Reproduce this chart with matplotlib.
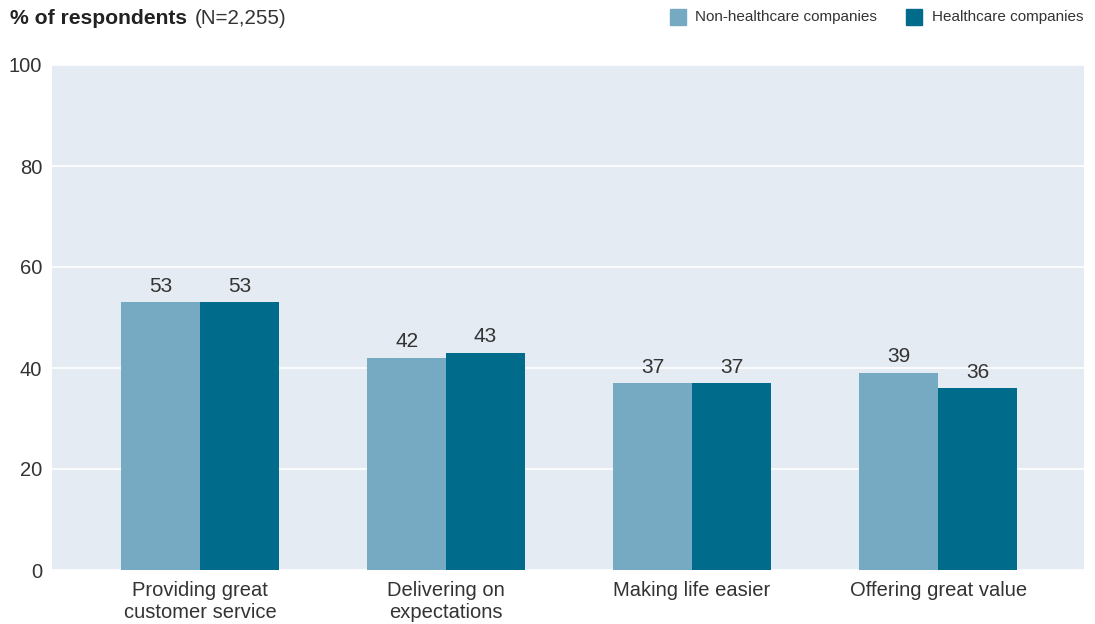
import matplotlib.pyplot as plt
import numpy as np

# Data
categories = ["Providing great\ncustomer service", "Delivering on\nexpectations",
              "Making life easier", "Offering great value"]
non_healthcare = [53, 42, 37, 39]
healthcare = [53, 43, 37, 36]
yticks = [0, 20, 40, 60, 80, 100]

light = "#76aac2"
dark = "#006b8b"
text_color = "#333333"

plt.rcParams['font.family'] = ['Liberation Sans', 'DejaVu Sans']

fig = plt.figure(figsize=(10.95, 6.24), dpi=100)
ax = fig.add_axes([52 / 1095, 54 / 624, 1032 / 1095, 505 / 624])
ax.set_facecolor("#e4ebf2")

x = np.arange(len(categories))
w = 0.321

b1 = ax.bar(x - w / 2, non_healthcare, width=w, color=light, zorder=3)
b2 = ax.bar(x + w / 2, healthcare, width=w, color=dark, zorder=3)

for bars, vals in ((b1, non_healthcare), (b2, healthcare)):
    for b, v in zip(bars, vals):
        ax.text(b.get_x() + b.get_width() / 2, v + 1.3, str(v),
                ha="center", va="bottom", fontsize=15, color=text_color)

ax.set_ylim(0, 100)
ax.set_xlim(-0.602, 3.593)
ax.set_yticks(yticks)
ax.set_xticks(x)
ax.set_xticklabels(categories, fontsize=14.5, color=text_color, linespacing=1.2)
ax.tick_params(axis="y", labelsize=14.5, labelcolor=text_color, length=0, pad=7)
ax.tick_params(axis="x", length=0, pad=8)
ax.grid(axis="y", color="white", linewidth=1.2, zorder=1)
for s in ax.spines.values():
    s.set_visible(False)

# Title
fig.text(10 / 1095, 1 - 18 / 624, "% of respondents", fontsize=15.2,
         fontweight="bold", color="#222222", va="center", ha="left")
fig.text(195 / 1095, 1 - 18 / 624, "(N=2,255)", fontsize=14.8,
         color=text_color, va="center", ha="left")

# Legend
for sx, tx, col, lab in ((670, 695, light, "Non-healthcare companies"),
                         (906, 932, dark, "Healthcare companies")):
    fig.patches.append(plt.Rectangle((sx / 1095, 1 - 25 / 624), 16 / 1095, 16 / 624,
                                     transform=fig.transFigure, color=col))
    fig.text(tx / 1095, 1 - 17 / 624, lab, fontsize=11, color=text_color,
             va="center", ha="left")

fig.savefig("out.png", dpi=100)
